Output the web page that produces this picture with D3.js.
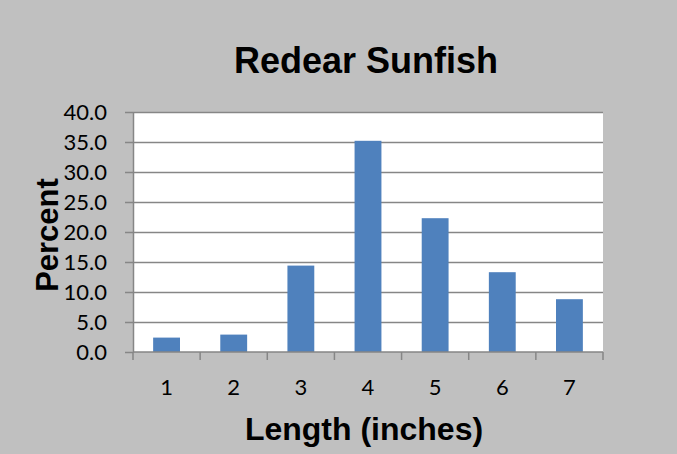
<html>
<head>
<script src="https://d3js.org/d3.v7.min.js"></script>
<style>
  body { margin: 0; background: #c0c0c0; }
  .tick text, .xlab { font-family: Lato, "Open Sans", sans-serif; font-size: 22px; fill: #000; }
  .axis path, .axis line { stroke: #868686; stroke-width: 1.5px; }
  .grid line { stroke: #868686; stroke-width: 1.5px; }
  .grid path { display: none; }
  .label { font-family: "Liberation Sans", Arial, sans-serif; font-weight: bold; fill: #000; }
</style>
</head>
<body>
<script>
var lengths = ["1", "2", "3", "4", "5", "6", "7"];
var percents = [2.4, 2.9, 14.4, 35.2, 22.3, 13.3, 8.8];
var yTicks = [0, 5, 10, 15, 20, 25, 30, 35, 40];

var W = 677, H = 454;
var margin = {top: 112, right: 74, bottom: 102, left: 133},
    width = W - margin.left - margin.right,
    height = H - margin.top - margin.bottom;

var svg = d3.select("body").append("svg")
    .attr("width", W)
    .attr("height", H);

svg.append("rect")
    .attr("width", W).attr("height", H)
    .attr("fill", "#c0c0c0");

var g = svg.append("g")
    .attr("transform", "translate(" + margin.left + "," + margin.top + ")");

var x = d3.scaleBand()
    .domain(lengths)
    .range([0, width])
    .paddingInner(0.6)
    .paddingOuter(0.3);

var y = d3.scaleLinear()
    .domain([0, 40])
    .range([height, 0]);

// plot area
g.append("rect")
    .attr("width", width)
    .attr("height", height)
    .attr("fill", "#fff");

// gridlines
g.append("g").attr("class", "grid")
    .call(d3.axisLeft(y).tickValues(yTicks.slice(1)).tickSize(-width).tickFormat(""));

// bars
g.selectAll(".bar")
    .data(percents)
    .enter().append("rect")
    .attr("class", "bar")
    .attr("x", function(d, i) { return x(lengths[i]); })
    .attr("y", function(d) { return y(d); })
    .attr("width", x.bandwidth())
    .attr("height", function(d) { return height - y(d); })
    .attr("fill", "#4f81bd");

// y axis
g.append("g").attr("class", "axis")
    .call(d3.axisLeft(y).tickValues(yTicks).tickSize(8).tickSizeOuter(0).tickPadding(18)
        .tickFormat(d3.format(".1f")));

// x axis, ticks sit between categories
var xAxisG = g.append("g").attr("class", "axis")
    .attr("transform", "translate(0," + height + ")");
xAxisG.append("line")
    .attr("x1", 0).attr("x2", width);
xAxisG.selectAll(".xtick")
    .data(d3.range(lengths.length + 1))
    .enter().append("line")
    .attr("x1", function(i) { return i * x.step(); })
    .attr("x2", function(i) { return i * x.step(); })
    .attr("y1", 0).attr("y2", 8);
xAxisG.selectAll(".xlab")
    .data(lengths)
    .enter().append("text")
    .attr("class", "xlab")
    .attr("x", function(d) { return x(d) + x.bandwidth() / 2; })
    .attr("y", 43)
    .attr("text-anchor", "middle")
    .text(function(d) { return d; });

// titles
svg.append("text").attr("class", "label")
    .attr("x", 366).attr("y", 73)
    .attr("text-anchor", "middle")
    .style("font-size", "36px")
    .text("Redear Sunfish");

svg.append("text").attr("class", "label")
    .attr("x", 364).attr("y", 440)
    .attr("text-anchor", "middle")
    .style("font-size", "32px")
    .text("Length (inches)");

svg.append("text").attr("class", "label")
    .attr("transform", "translate(58,235) rotate(-90)")
    .attr("text-anchor", "middle")
    .style("font-size", "31px")
    .text("Percent");
</script>
</body>
</html>
